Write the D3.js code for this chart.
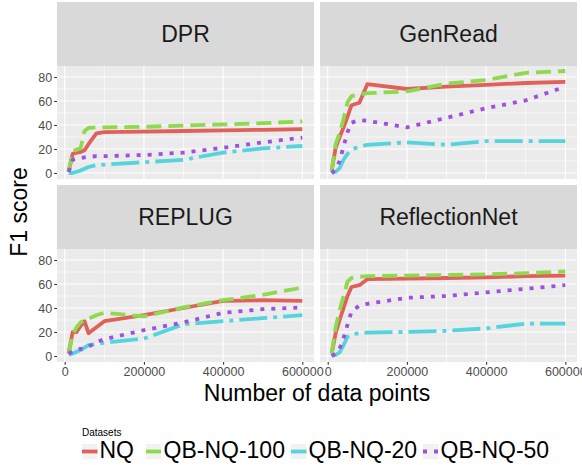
<!DOCTYPE html>
<html><head><meta charset="utf-8">
<script src="https://cdn.jsdelivr.net/npm/d3@7"></script>
<style>
html,body{margin:0;padding:0;background:#fff;}
svg{display:block;font-family:"Liberation Sans",Arial,Helvetica,sans-serif;}
</style></head>
<body><svg id="chart" width="582" height="465"></svg>
<script>
// ---- data ----
const xValues = [10000, 20000, 30000, 40000, 50000, 60000, 80000, 100000, 200000, 300000, 400000, 500000, 600000];
const panels = ["DPR", "GenRead", "REPLUG", "ReflectionNet"];
const datasets = ["NQ", "QB-NQ-100", "QB-NQ-20", "QB-NQ-50"];
const xTicks = [0, 200000, 400000, 600000];
const yTicks = [0, 20, 40, 60, 80];

const dprNQ      = [1, 16, 17, 17.5, 19, 24, 33, 34, 34.5, 35, 35.5, 36, 36.5];
const dprQB100   = [1, 18, 19.5, 20.5, 35, 37.5, 38, 38, 38.5, 39.5, 40.5, 41.5, 43];
const dprQB20    = [0, 0, 1, 2, 3.5, 5, 6.5, 7, 9, 11, 17, 20.5, 22.5];
const dprQB50    = [1, 11, 12, 12.5, 13, 13.5, 14, 14, 15, 17, 21, 25.5, 29.5];

const genNQ      = [2, 21, 30, 38, 47, 56.5, 58.5, 74, 70, 72, 73.5, 75, 76];
const genQB100   = [2, 24, 33, 45, 59, 64, 65.5, 66.5, 68, 74.5, 77.5, 83.5, 85];
const genQB20    = [0, 1, 4, 11, 16, 19.5, 22, 23.5, 25.5, 23.5, 26.5, 26.5, 26.5];
const genQB50    = [0, 3, 10, 22, 34, 42, 44, 43.5, 38, 46, 54, 60.5, 72];

const repNQ      = [2, 20, 20, 25, 29, 19, 24, 29, 34, 40, 46, 46.5, 46];
const repQB100   = [2, 18, 24, 28, 30, 31, 34, 36, 33, 40.5, 46.5, 51, 57];
const repQB20    = [1, 2, 3.5, 5, 7, 9, 10, 11, 14.5, 26.5, 29, 31.5, 34];
const repQB50    = [2, 4, 5, 6, 6, 7.8, 11.5, 14, 21.5, 28, 36, 39, 40.5];

const refNQ      = [2, 19, 30, 40, 50, 57.5, 59, 64, 64.5, 65, 65.5, 66.5, 67];
const refQB100   = [2, 24, 38, 50, 62, 65, 66, 66.5, 67, 67.5, 68, 69, 70.5];
const refQB20    = [0, 1, 3, 9, 16, 18, 19, 19.5, 20, 21, 23, 27, 27];
const refQB50    = [0, 2, 6, 15, 26, 37, 42, 43.5, 48.5, 50, 53, 56, 59];

const seriesByPanel = {
  "DPR":           [dprNQ, dprQB100, dprQB20, dprQB50],
  "GenRead":       [genNQ, genQB100, genQB20, genQB50],
  "REPLUG":        [repNQ, repQB100, repQB20, repQB50],
  "ReflectionNet": [refNQ, refQB100, refQB20, refQB50]
};

// ---- styles ----
const colors = ["#E0605A", "#8FD94F", "#56D4DD", "#A050E0"];
const dashes = [null, "15,7", "28,6,4,6", "4,7"];
const lineW = 3.8;

const svg = d3.select("#chart");
const colX = [57, 320];
const rowTop = [2, 185];
const panelW = 257, stripH = 64, panelH = 113;

const x = d3.scaleLinear().domain([-19500, 629500]).range([0, panelW]);
const y = d3.scaleLinear().domain([-5, 89.17]).range([panelH, 0]);

const line = d3.line().x((d, i) => x(xValues[i])).y(d => y(d));

const defs = svg.append("defs");
defs.append("clipPath").attr("id", "pclip")
  .append("rect").attr("width", panelW).attr("height", panelH);

panels.forEach((name, pi) => {
  const col = pi % 2, row = Math.floor(pi / 2);
  const g = svg.append("g").attr("transform", `translate(${colX[col]},${rowTop[row]})`);
  // strip
  g.append("rect").attr("width", panelW).attr("height", stripH).attr("fill", "#D9D9D9");
  g.append("text").attr("x", panelW / 2).attr("y", stripH / 2 + 8)
    .attr("text-anchor", "middle").attr("font-size", 23).attr("fill", "#1A1A1A").text(name);
  const p = g.append("g").attr("transform", `translate(0,${stripH})`);
  p.append("rect").attr("width", panelW).attr("height", panelH).attr("fill", "#EBEBEB");
  // minor grid
  const yMinor = [10, 30, 50, 70];
  const xMinor = [100000, 300000, 500000];
  p.selectAll(".ymin").data(yMinor).enter().append("line")
    .attr("x1", 0).attr("x2", panelW).attr("y1", d => y(d)).attr("y2", d => y(d))
    .attr("stroke", "#fff").attr("stroke-width", 0.6);
  p.selectAll(".xmin").data(xMinor).enter().append("line")
    .attr("y1", 0).attr("y2", panelH).attr("x1", d => x(d)).attr("x2", d => x(d))
    .attr("stroke", "#fff").attr("stroke-width", 0.6);
  p.selectAll(".ymaj").data(yTicks).enter().append("line")
    .attr("x1", 0).attr("x2", panelW).attr("y1", d => y(d)).attr("y2", d => y(d))
    .attr("stroke", "#fff").attr("stroke-width", 1.1);
  p.selectAll(".xmaj").data(xTicks).enter().append("line")
    .attr("y1", 0).attr("y2", panelH).attr("x1", d => x(d)).attr("x2", d => x(d))
    .attr("stroke", "#fff").attr("stroke-width", 1.1);
  // series
  const sg = p.append("g").attr("clip-path", "url(#pclip)");
  seriesByPanel[name].forEach((vals, si) => {
    sg.append("path").datum(vals).attr("d", line)
      .attr("fill", "none").attr("stroke", colors[si]).attr("stroke-width", lineW)
      .attr("stroke-linejoin", "round")
      .attr("stroke-dasharray", dashes[si]);
  });
  // axes
  if (col === 0) {
    const ya = p.append("g").call(d3.axisLeft(y).tickValues(yTicks).tickSize(2.75).tickPadding(2));
    ya.select(".domain").remove();
    ya.selectAll("line").attr("stroke", "#333").attr("stroke-width", 1.1);
    ya.selectAll("text").attr("font-size", 12.5).attr("fill", "#4D4D4D").attr("font-family", null);
  }
  if (row === 1) {
    const xa = p.append("g").attr("transform", `translate(0,${panelH})`)
      .call(d3.axisBottom(x).tickValues(xTicks).tickFormat(d3.format("d")).tickSize(2.75).tickPadding(2));
    xa.select(".domain").remove();
    xa.selectAll("line").attr("stroke", "#333").attr("stroke-width", 1.1);
    xa.selectAll("text").attr("font-size", 12.5).attr("fill", "#4D4D4D").attr("font-family", null);
  }
});

// axis titles
svg.append("text").attr("x", 317).attr("y", 401).attr("text-anchor", "middle")
  .attr("font-size", 23).attr("fill", "#000").text("Number of data points");
svg.append("text").attr("transform", "translate(27,212) rotate(-90)").attr("text-anchor", "middle")
  .attr("font-size", 23).attr("fill", "#000").text("F1 score");

// legend
const leg = svg.append("g");
leg.append("text").attr("x", 82).attr("y", 436).attr("font-size", 10).attr("fill", "#000").text("Datasets");
const keyX = [82, 146, 291, 423];
datasets.forEach((d, i) => {
  const kx = keyX[i];
  leg.append("rect").attr("x", kx).attr("y", 444).attr("width", 15.5).attr("height", 15).attr("fill", "#F2F2F2");
  leg.append("line").attr("x1", kx).attr("x2", kx + 15.5).attr("y1", 451.5).attr("y2", 451.5)
    .attr("stroke", colors[i]).attr("stroke-width", lineW).attr("stroke-dasharray", dashes[i]);
  leg.append("text").attr("x", kx + 17.5).attr("y", 458).attr("font-size", 23).attr("fill", "#000").text(d);
});
</script>
</body></html>
